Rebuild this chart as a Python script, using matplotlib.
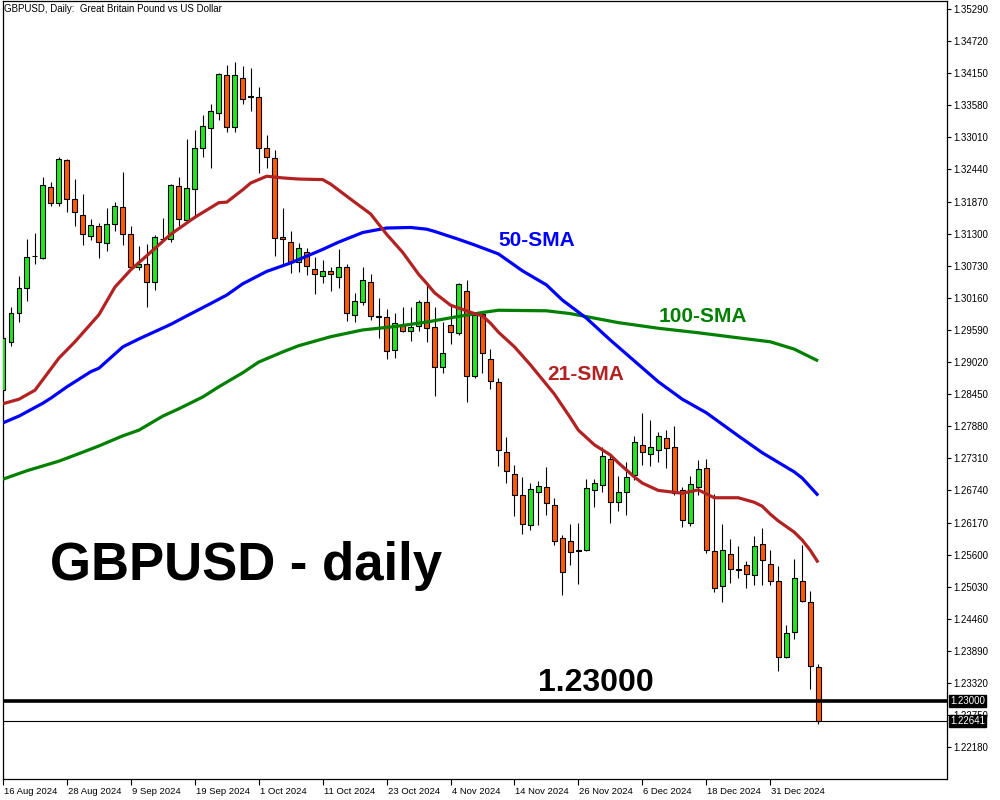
import matplotlib
matplotlib.use("Agg")
import matplotlib.pyplot as plt
import matplotlib.transforms as mtransforms
import numpy as np

# ---------------- data (GBPUSD daily candles, bar 0 = 16 Aug 2024) ----------------
opens = [1.2852, 1.2938, 1.2989, 1.3033, 1.3090, 1.3086, 1.3212, 1.3184, 1.3261, 1.3191,
         1.3163, 1.3125, 1.3143, 1.3113, 1.3147, 1.3177, 1.3129, 1.3070, 1.3076, 1.3044,
         1.3120, 1.3120, 1.3214, 1.3154, 1.3209, 1.3283, 1.3317, 1.3344, 1.3411, 1.3319,
         1.3406, 1.3374, 1.3372, 1.3282, 1.3264, 1.3124, 1.3115, 1.3079, 1.3098, 1.3068,
         1.3054, 1.3064, 1.3053, 1.3070, 1.2985, 1.3008, 1.3045, 1.2982, 1.2982, 1.2923,
         1.2966, 1.2958, 1.2966, 1.3008, 1.2964, 1.2894, 1.2967, 1.2953, 1.3028, 1.2878,
         1.2987, 1.2907, 1.2866, 1.2742, 1.2703, 1.2665, 1.2612, 1.2672, 1.2680, 1.2649,
         1.2589, 1.2585, 1.2568, 1.2568, 1.2674, 1.2683, 1.2729, 1.2653, 1.2671, 1.2701,
         1.2754, 1.2738, 1.2745, 1.2767, 1.2751, 1.2674, 1.2616, 1.2680, 1.2713, 1.2566,
         1.2504, 1.2561, 1.2534, 1.2541, 1.2523, 1.2578, 1.2543, 1.2513, 1.2378, 1.2422,
         1.2514, 1.2475, 1.2360]
highs = [1.2950, 1.2999, 1.3054, 1.3121, 1.3131, 1.3230, 1.3221, 1.3266, 1.3263, 1.3227,
         1.3200, 1.3156, 1.3149, 1.3176, 1.3186, 1.3240, 1.3143, 1.3108, 1.3112, 1.3127,
         1.3158, 1.3218, 1.3231, 1.3298, 1.3314, 1.3341, 1.3360, 1.3415, 1.3430, 1.3434,
         1.3428, 1.3424, 1.3390, 1.3305, 1.3279, 1.3175, 1.3134, 1.3113, 1.3105, 1.3089,
         1.3083, 1.3071, 1.3102, 1.3077, 1.3024, 1.3070, 1.3058, 1.3015, 1.2996, 1.2989,
         1.2999, 1.2999, 1.3012, 1.3042, 1.2999, 1.2974, 1.3005, 1.3042, 1.3047, 1.2990,
         1.2989, 1.2926, 1.2873, 1.2768, 1.2720, 1.2697, 1.2687, 1.2691, 1.2715, 1.2660,
         1.2594, 1.2614, 1.2616, 1.2694, 1.2694, 1.2751, 1.2736, 1.2699, 1.2724, 1.2771,
         1.2811, 1.2799, 1.2777, 1.2781, 1.2788, 1.2680, 1.2699, 1.2728, 1.2729, 1.2667,
         1.2614, 1.2587, 1.2575, 1.2548, 1.2593, 1.2607, 1.2569, 1.2539, 1.2435, 1.2552,
         1.2577, 1.2495, 1.2365]
lows = [1.2849, 1.2931, 1.2974, 1.3011, 1.3076, 1.3085, 1.3180, 1.3180, 1.3168, 1.3144,
        1.3109, 1.3119, 1.3087, 1.3100, 1.3135, 1.3109, 1.3069, 1.3066, 1.3000, 1.3030,
        1.3119, 1.3116, 1.3144, 1.3150, 1.3158, 1.3267, 1.3247, 1.3331, 1.3311, 1.3311,
        1.3360, 1.3348, 1.3237, 1.3246, 1.3091, 1.3077, 1.3060, 1.3062, 1.3056, 1.3022,
        1.3042, 1.3029, 1.3034, 1.2975, 1.2974, 1.3003, 1.2976, 1.2944, 1.2907, 1.2909,
        1.2955, 1.2939, 1.2957, 1.2937, 1.2842, 1.2883, 1.2934, 1.2950, 1.2831, 1.2873,
        1.2883, 1.2855, 1.2718, 1.2687, 1.2629, 1.2596, 1.2603, 1.2612, 1.2630, 1.2577,
        1.2488, 1.2541, 1.2507, 1.2566, 1.2644, 1.2672, 1.2617, 1.2637, 1.2630, 1.2692,
        1.2720, 1.2717, 1.2724, 1.2713, 1.2665, 1.2609, 1.2610, 1.2665, 1.2562, 1.2493,
        1.2475, 1.2509, 1.2518, 1.2500, 1.2506, 1.2506, 1.2506, 1.2353, 1.2376, 1.2411,
        1.2475, 1.2321, 1.2260]
closes = [1.2945, 1.2989, 1.3033, 1.3088, 1.3091, 1.3216, 1.3184, 1.3262, 1.3191, 1.3168,
          1.3129, 1.3145, 1.3115, 1.3147, 1.3180, 1.3129, 1.3070, 1.3077, 1.3044, 1.3124,
          1.3121, 1.3216, 1.3156, 1.3211, 1.3283, 1.3321, 1.3347, 1.3413, 1.3319, 1.3411,
          1.3370, 1.3372, 1.3283, 1.3267, 1.3122, 1.3120, 1.3079, 1.3104, 1.3072, 1.3058,
          1.3064, 1.3058, 1.3070, 1.2989, 1.3010, 1.3047, 1.2983, 1.2983, 1.2921, 1.2971,
          1.2958, 1.2965, 1.3008, 1.2962, 1.2894, 1.2918, 1.2955, 1.3040, 1.2878, 1.2985,
          1.2918, 1.2868, 1.2745, 1.2708, 1.2665, 1.2614, 1.2676, 1.2681, 1.2651, 1.2585,
          1.2530, 1.2564, 1.2567, 1.2678, 1.2687, 1.2736, 1.2653, 1.2672, 1.2697, 1.2760,
          1.2742, 1.2751, 1.2770, 1.2749, 1.2669, 1.2621, 1.2685, 1.2712, 1.2569, 1.2500,
          1.2568, 1.2534, 1.2533, 1.2525, 1.2575, 1.2550, 1.2513, 1.2379, 1.2420, 1.2518,
          1.2477, 1.2362, 1.22641]

# moving averages (bar index -> value)
sma21_idx = [0, 2, 4, 5, 7, 9, 12, 14, 16, 18, 21, 24, 27, 28, 30, 31, 33, 35, 37, 40,
             41, 44, 46, 48, 50, 52, 53, 54, 56, 57, 59, 60, 61, 62, 64, 66, 69, 71, 72, 74,
             76, 77, 79, 80, 82, 85, 87, 89, 92, 94, 95, 96, 97, 99, 100, 101, 102]
sma21_val = [1.2828, 1.2836, 1.2852, 1.2871, 1.2909, 1.2938, 1.2986, 1.3035, 1.3066, 1.3091,
             1.3129, 1.3159, 1.3185, 1.3186, 1.3208, 1.3220, 1.3232, 1.3229, 1.3227, 1.3226,
             1.3218, 1.3186, 1.3165, 1.3129, 1.3097, 1.3058, 1.3042, 1.3025, 1.3003, 1.2998,
             1.2988, 1.2984, 1.2971, 1.2955, 1.2929, 1.2897, 1.2845, 1.2803, 1.2781, 1.2755,
             1.2737, 1.2723, 1.2698, 1.2687, 1.2674, 1.2669, 1.2675, 1.2661, 1.2661, 1.2653,
             1.2646, 1.2632, 1.2620, 1.2600, 1.2586, 1.2568, 1.2546]
sma50_idx = [0, 2, 5, 6, 8, 11, 12, 15, 17, 19, 21, 23, 26, 28, 30, 33, 36, 38, 40, 42,
             45, 48, 51, 53, 54, 57, 59, 62, 65, 68, 70, 73, 76, 79, 82, 85, 88, 92, 95, 97,
             99, 100, 102]
sma50_val = [1.2794, 1.2806, 1.2829, 1.2838, 1.2858, 1.2885, 1.2891, 1.2929, 1.2943, 1.2956,
             1.2969, 1.2984, 1.3006, 1.3021, 1.3041, 1.3063, 1.3078, 1.3090, 1.3102, 1.3115,
             1.3132, 1.3140, 1.3141, 1.3138, 1.3134, 1.3120, 1.3110, 1.3094, 1.3064, 1.3039,
             1.3012, 1.2980, 1.2941, 1.2904, 1.2867, 1.2836, 1.2812, 1.2771, 1.2741, 1.2724,
             1.2707, 1.2696, 1.2665]
sma100_idx = [0, 3, 7, 10, 12, 15, 17, 20, 22, 25, 27, 30, 32, 35, 37, 41, 45, 49, 53, 57,
              60, 62, 68, 71, 74, 77, 80, 82, 87, 92, 96, 99, 102]
sma100_val = [1.2694, 1.2709, 1.2726, 1.2742, 1.2753, 1.2771, 1.2781, 1.2806, 1.2819, 1.2840,
              1.2858, 1.2883, 1.2902, 1.2920, 1.2931, 1.2947, 1.2959, 1.2965, 1.2973, 1.2983,
              1.2990, 1.2994, 1.2993, 1.2988, 1.2980, 1.2972, 1.2966, 1.2962, 1.2954, 1.2945,
              1.2938, 1.2925, 1.2904]

xtick_pos = [0, 8, 16, 24, 32, 40, 48, 56, 64, 72, 80, 88, 96]
xtick_labels = ["16 Aug 2024", "28 Aug 2024", "9 Sep 2024", "19 Sep 2024", "1 Oct 2024",
                "11 Oct 2024", "23 Oct 2024", "4 Nov 2024", "14 Nov 2024", "26 Nov 2024",
                "6 Dec 2024", "18 Dec 2024", "31 Dec 2024"]
ytick_top = 1.35290
ytick_step = 0.00570
ytick_count = 24
level = 1.23000
last_price = 1.22641

# ---------------- drawing ----------------
FONT = "Liberation Sans"
plt.rcParams['font.family'] = [FONT, 'DejaVu Sans']

fig = plt.figure(figsize=(10, 8), dpi=100)
W, H = 1000, 800
ax = fig.add_axes([3 / W, 21 / H, 944 / W, 778 / H])

o = np.array(opens); h = np.array(highs); l = np.array(lows); c = np.array(closes)
x = np.arange(len(o))
up = c >= o
col = np.where(up, '#22E622', '#FF5A0A')

ax.vlines(x, l, h, color='black', lw=0.8, zorder=2)
ax.bar(x, np.abs(c - o), bottom=np.minimum(o, c), width=0.62, color=col,
       edgecolor='black', linewidth=0.8, zorder=3)

ax.plot(sma100_idx, sma100_val, color='#008000', lw=2.3, zorder=4, solid_capstyle='butt')
ax.plot(sma50_idx, sma50_val, color='#0000FF', lw=2.3, zorder=4, solid_capstyle='butt')
ax.plot(sma21_idx, sma21_val, color='#B22222', lw=2.3, zorder=4, solid_capstyle='butt')

ax.axhline(level, color='black', lw=2.6, zorder=5)
ax.axhline(last_price, color='black', lw=0.8, zorder=5)

ymax = 1.35432
ymin = 1.21615
ax.set_ylim(ymin, ymax)
ax.set_xlim(0.125, 118.125)

yt = [round(ytick_top - k * ytick_step, 5) for k in range(ytick_count)]
ax.yaxis.tick_right()
ax.set_yticks(yt)
ax.set_yticklabels([f"{v:.5f}" for v in yt])
ax.tick_params(axis='y', direction='out', length=3, width=0.8, pad=1.5, labelsize=7)

ax.set_xticks(xtick_pos)
ax.set_xticklabels(xtick_labels)
ax.tick_params(axis='x', direction='out', length=4, width=0.8, pad=1.5, labelsize=6.8)
for lbl in ax.get_xticklabels():
    lbl.set_ha('left')
    lbl.set_x(0)
offset = mtransforms.ScaledTranslation(1 / 100, 0, fig.dpi_scale_trans)
for lbl in ax.get_xticklabels():
    lbl.set_transform(lbl.get_transform() + offset)

for sp in ax.spines.values():
    sp.set_linewidth(0.9)
    sp.set_color('black')

# price boxes on the right axis
trans = mtransforms.blended_transform_factory(ax.transAxes, ax.transData)
for val in (level, last_price):
    ax.text(1.0035, val, f"{val:.5f}", transform=trans, color='white', fontsize=7,
            va='center', ha='left', clip_on=False, zorder=10,
            bbox=dict(boxstyle='square,pad=0.12', facecolor='black', edgecolor='black'))

# annotations
def ftext(px, py, s, **kw):
    fig.text(px / W, 1 - py / H, s, **kw)

ftext(4, 9, "GBPUSD, Daily:  Great Britain Pound vs US Dollar", fontsize=7,
      va='center', ha='left', color='black')
ftext(50, 566, "GBPUSD - daily", fontsize=38, fontweight='bold', va='center', ha='left',
      color='black')
ftext(538, 683, "1.23000", fontsize=23, fontweight='bold', va='center', ha='left',
      color='black')
ftext(498, 241, "50-SMA", fontsize=15, fontweight='bold', va='center', ha='left',
      color='#0000FF')
ftext(659, 316, "100-SMA", fontsize=15, fontweight='bold', va='center', ha='left',
      color='#008000')
ftext(547, 374, "21-SMA", fontsize=15, fontweight='bold', va='center', ha='left',
      color='#B22222')

fig.savefig("out.png", dpi=100)
